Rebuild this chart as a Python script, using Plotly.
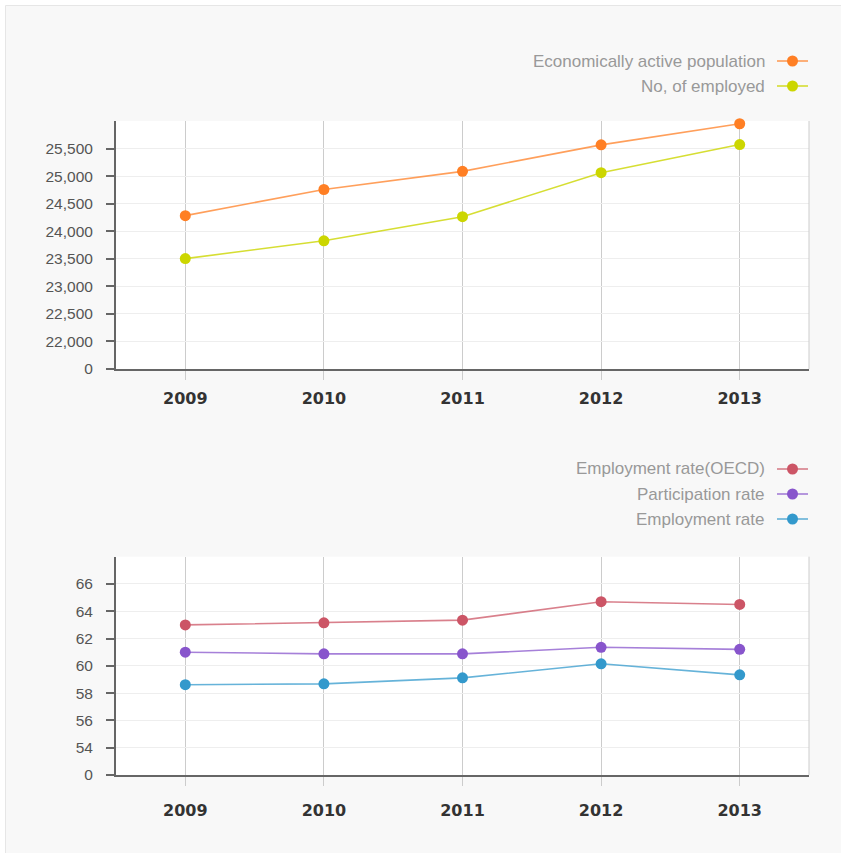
import plotly.graph_objects as go

years = ["2009", "2010", "2011", "2012", "2013"]
econ_active = [24283, 24757, 25086, 25567, 25950]
employed = [23503, 23826, 24264, 25062, 25573]
emp_rate_oecd = [63.0, 63.15, 63.35, 64.7, 64.5]
participation = [61.0, 60.88, 60.88, 61.36, 61.21]
emp_rate = [58.62, 58.68, 59.12, 60.15, 59.34]

top_ticks = [21500, 22000, 22500, 23000, 23500, 24000, 24500, 25000, 25500]
top_ticktext = ["0", "22,000", "22,500", "23,000", "23,500", "24,000", "24,500", "25,000", "25,500"]
bot_ticks = [52, 54, 56, 58, 60, 62, 64, 66]
bot_ticktext = ["0", "54", "56", "58", "60", "62", "64", "66"]

top_series = [("Economically active population", econ_active, "#ff7f24", "rgba(255,127,36,0.75)"),
              ("No, of employed", employed, "#ccd600", "rgba(204,214,0,0.8)")]
bot_series = [("Employment rate(OECD)", emp_rate_oecd, "#cc5566", "rgba(204,85,102,0.75)"),
              ("Participation rate", participation, "#8855cc", "rgba(136,85,204,0.75)"),
              ("Employment rate", emp_rate, "#3399cc", "rgba(51,153,204,0.75)")]

W, H = 841, 853
ML, MR, MT, MB = 116, 32, 121, 78
PW, PH = W - ML - MR, H - MT - MB

def px(x):
    return (x - ML) / PW

def py(y):
    return (H - MB - y) / PH

fig = go.Figure()
for name, vals, mc, lc in top_series:
    fig.add_trace(go.Scatter(x=years, y=vals, name=name, mode="lines+markers",
                             line=dict(color=lc, width=1.6), marker=dict(color=mc, size=11),
                             xaxis="x", yaxis="y", showlegend=False, cliponaxis=False))
for name, vals, mc, lc in bot_series:
    fig.add_trace(go.Scatter(x=years, y=vals, name=name, mode="lines+markers",
                             line=dict(color=lc, width=1.6), marker=dict(color=mc, size=11),
                             xaxis="x2", yaxis="y2", showlegend=False, cliponaxis=False))

xcommon = dict(type="category", range=[-0.5, 4.5], showgrid=True, gridcolor="#cccccc", gridwidth=1,
               ticks="outside", ticklen=9, tickcolor="#cccccc", tickwidth=1,
               showline=True, linecolor="#666666", linewidth=2,
               tickfont=dict(family="DejaVu Sans", size=16, color="#333333", weight="bold"),
               fixedrange=True)
ycommon = dict(showgrid=True, gridcolor="#eeeeee", gridwidth=1, zeroline=False,
               ticks="outside", ticklen=8, tickcolor="#666666", tickwidth=1.5,
               showline=True, linecolor="#666666", linewidth=2,
               tickfont=dict(family="Liberation Sans", size=15.5, color="#555555"),
               ticklabelstandoff=10)

top_dom = [py(369), 1]
bot_dom = [0, py(556.7)]

fig.update_layout(
    width=W, height=H,
    margin=dict(l=ML, r=MR, t=MT, b=MB),
    paper_bgcolor="#f8f8f8", plot_bgcolor="#ffffff",
    showlegend=False,
    xaxis=dict(xcommon, anchor="y", domain=[0, 1], ticklabelstandoff=5),
    yaxis=dict(ycommon, domain=top_dom, range=[21500, 26000], tickvals=top_ticks, ticktext=top_ticktext, anchor="x"),
    xaxis2=dict(xcommon, anchor="y2", domain=[0, 1], ticklabelstandoff=11),
    yaxis2=dict(ycommon, domain=bot_dom, range=[52, 68], tickvals=bot_ticks, ticktext=bot_ticktext, anchor="x2"),
)

shapes = []
shapes.append(dict(type="rect", xref="paper", yref="paper", x0=px(0), x1=px(W + 5), y0=py(0), y1=py(5.5),
                   fillcolor="#ffffff", line=dict(width=0), layer="below"))
shapes.append(dict(type="rect", xref="paper", yref="paper", x0=px(0), x1=px(5.5), y0=py(0), y1=py(H + 5),
                   fillcolor="#ffffff", line=dict(width=0), layer="below"))
shapes.append(dict(type="rect", xref="paper", yref="paper", x0=px(5.5), x1=px(W + 10), y0=py(5.5), y1=py(H + 10),
                   fillcolor="rgba(0,0,0,0)", line=dict(color="#e6e6e6", width=1), layer="below"))
for dom in (top_dom, bot_dom):
    shapes.append(dict(type="line", xref="paper", yref="paper", x0=1, x1=1, y0=dom[0], y1=dom[1],
                       line=dict(color="#cccccc", width=1)))

annotations = []
def legend(entries, y0):
    for i, (name, vals, mc, lc) in enumerate(entries):
        yy = y0 + 25 * i
        annotations.append(dict(text=name, xref="paper", yref="paper", x=px(767), y=py(yy),
                                xanchor="right", yanchor="middle", showarrow=False,
                                font=dict(family="Liberation Sans", size=17, color="#999999")))
        shapes.append(dict(type="line", xref="paper", yref="paper", x0=px(777), x1=px(808), y0=py(yy), y1=py(yy),
                           line=dict(color=lc, width=1.6)))
        shapes.append(dict(type="circle", xref="paper", yref="paper", x0=px(787), x1=px(798),
                           y0=py(yy + 5.5), y1=py(yy - 5.5), fillcolor=mc, line=dict(width=0)))

legend(top_series, 61)
legend(bot_series, 469)

fig.update_layout(shapes=shapes, annotations=annotations)
fig.write_html("out.html")
